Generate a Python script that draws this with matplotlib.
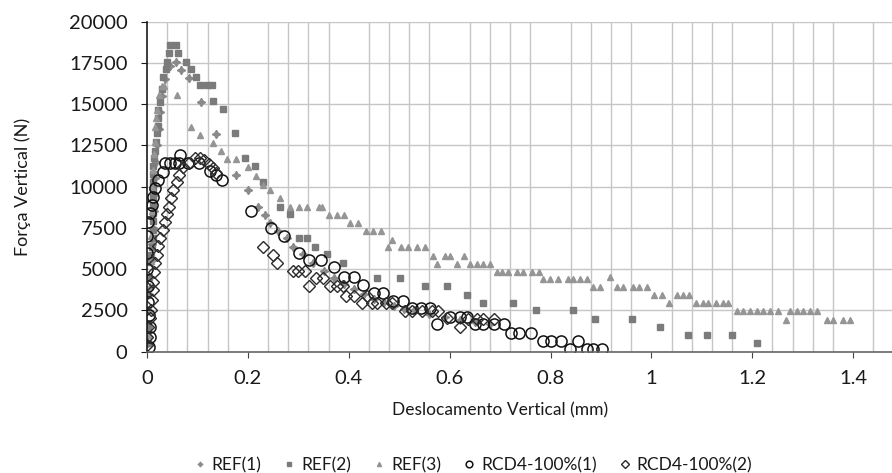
import matplotlib
matplotlib.use("Agg")
import matplotlib.pyplot as plt
from matplotlib.ticker import MultipleLocator

plt.rcParams['font.family'] = ['Lato', 'DejaVu Sans']

# ---------------- data ----------------
ref1_x = [0.001, 0.002, 0.0, 0.004, 0.006, 0.008, 0.010, 0.012, 0.013, 0.014, 0.016, 0.018, 0.020,
          0.023, 0.026, 0.030, 0.036, 0.045, 0.0575, 0.0668, 0.0839, 0.107, 0.1368, 0.176, 0.200,
          0.2206, 0.234, 0.2438, 0.2603, 0.277, 0.290, 0.310, 0.330, 0.350, 0.370, 0.390, 0.410,
          0.430, 0.450, 0.470, 0.490, 0.510, 0.530, 0.560, 0.590, 0.620, 0.650, 0.680]
ref1_y = [500, 1500, 2500, 3500, 4500, 5500, 6500, 7500, 8500, 9500, 10500, 11500, 12500,
          13500, 14500, 15500, 16500, 17300, 17556, 17071, 16568, 15114, 13193, 10708, 9800,
          8787, 8284, 7817, 7333, 6872, 6363, 5900, 5400, 4900, 4450, 4100, 3800,
          3500, 3200, 3000, 2800, 2600, 2500, 2300, 2100, 1950, 1800, 1700]

ref2_x = [0.001, 0.002, 0.0, 0.004, 0.006, 0.0073, 0.0093, 0.0113, 0.0113, 0.0113, 0.0113, 0.0113,
          0.0113, 0.0113, 0.0113, 0.0125, 0.0125, 0.0139, 0.0159, 0.0178, 0.0192, 0.0224, 0.0224,
          0.0224, 0.0258, 0.029, 0.0324, 0.0377, 0.039, 0.044, 0.0456, 0.0575, 0.062, 0.077,
          0.0866, 0.097, 0.106, 0.118, 0.128, 0.131, 0.151, 0.1744, 0.194, 0.214, 0.229, 0.264,
          0.283, 0.302, 0.317, 0.333, 0.356, 0.389, 0.455, 0.5015, 0.551, 0.594, 0.634, 0.6666,
          0.726, 0.771, 0.844, 0.888, 0.961, 1.018, 1.073, 1.111, 1.160, 1.2085]
ref2_y = [500, 1500, 3436, 4500, 5454, 5860, 6363, 6872, 7375, 7900, 8400, 8900,
          9400, 9850, 10302, 10769, 11253, 11720, 12181, 12726, 13235, 13677, 14144,
          14647, 15150, 15900, 16629, 17113, 17574, 18083, 18586, 18586, 18083, 17574,
          17113, 16629, 16162, 16162, 16162, 15193, 14689, 13235, 11740, 11253, 10302, 8787,
          8345, 6872, 6872, 6363, 5902, 5393, 4448, 4448, 3981, 3981, 3436, 2970,
          2970, 2527, 2527, 1963, 1963, 1479, 1012, 1012, 1012, 545]

ref3_x = [0.003, 0.005, 0.006, 0.007, 0.008, 0.009, 0.010, 0.012, 0.013, 0.0159, 0.016, 0.018,
          0.020, 0.0238, 0.029, 0.0337, 0.0589, 0.087, 0.106, 0.131, 0.146, 0.158, 0.176, 0.201,
          0.216, 0.2306, 0.244, 0.264, 0.2834, 0.3005, 0.3165, 0.3415, 0.3463, 0.3613, 0.3759,
          0.3904, 0.4024, 0.4188, 0.4335, 0.4486, 0.4632, 0.4862, 0.4783, 0.5029, 0.518, 0.5346,
          0.551, 0.5663, 0.5907, 0.6006, 0.6283, 0.5754, 0.615, 0.6402, 0.6547, 0.6666, 0.6799,
          0.6932, 0.7031, 0.7162, 0.7328, 0.7459, 0.7625, 0.7776, 0.7855, 0.7988, 0.8153, 0.8351,
          0.845, 0.8583, 0.8716, 0.9177, 0.8834, 0.8979, 0.931, 0.9441, 0.9627, 0.9758, 0.9905,
          1.005, 1.0202, 1.0347, 1.0511, 1.063, 1.0749, 1.0882, 1.1027, 1.1126, 1.1279, 1.1411,
          1.1522, 1.1689, 1.182, 1.1952, 1.2085, 1.2216, 1.2349, 1.2513, 1.2745, 1.2878, 1.3009,
          1.3142, 1.3275, 1.2666, 1.3473, 1.3603, 1.3802, 1.3934]
ref3_y = [1000, 2500, 4000, 5500, 7000, 8500, 10000, 11000, 12000, 12700, 13600, 14147,
          14647, 15556, 16100, 16100, 15556, 13635, 13132, 12665, 12163, 11659, 11659, 11211,
          10666, 10100, 9799, 9296, 8751, 8751, 8751, 8751, 8751, 8284, 8284,
          8284, 7781, 7781, 7333, 7333, 7333, 6769, 6327, 6327, 6327, 6327,
          6327, 5800, 5800, 5800, 5800, 5315, 5315, 5315, 5315, 5315, 5315,
          4848, 4848, 4848, 4848, 4848, 4848, 4848, 4387, 4387, 4387, 4387,
          4387, 4387, 4387, 4500, 3903, 3903, 3903, 3903, 3903, 3903, 3903,
          3418, 3418, 2933, 3418, 3418, 3418, 2933, 2933, 2933, 2933, 2933,
          2933, 2448, 2448, 2448, 2448, 2448, 2448, 2448, 2448, 2448, 2448,
          2448, 2448, 1921, 1921, 1921, 1921, 1921]

rcd1_x = [0.004, 0.006, 0.005, 0.003, 0.002, 0.001, 0.0, 0.0, 0.0, 0.0026, 0.006, 0.0093,
          0.0125, 0.0159, 0.0224, 0.031, 0.0357, 0.0456, 0.0555, 0.064, 0.0654, 0.082, 0.1037,
          0.125, 0.1368, 0.148, 0.2055, 0.245, 0.2716, 0.302, 0.3217, 0.344, 0.3707, 0.3905,
          0.410, 0.4288, 0.450, 0.4684, 0.488, 0.5068, 0.5247, 0.5425, 0.561, 0.5754, 0.6006,
          0.6204, 0.635, 0.650, 0.6666, 0.688, 0.7076, 0.7209, 0.738, 0.7605, 0.7843, 0.800,
          0.820, 0.8385, 0.855, 0.8715, 0.8847, 0.903]
rcd1_y = [300, 900, 1500, 2200, 3000, 4000, 5000, 6000, 7012, 7878, 8387, 8890,
          9393, 9902, 10405, 10908, 11417, 11417, 11417, 11417, 11920, 11417, 11417,
          10969, 10708, 10405, 8527, 7478, 7012, 6000, 5557, 5557, 5115, 4545,
          4545, 4042, 3575, 3575, 3090, 3090, 2630, 2630, 2630, 1679, 2121,
          2121, 2121, 1679, 1679, 1679, 1679, 1115, 1115, 1115, 630, 630,
          630, 145, 630, 145, 145, 145]

rcd2_x = [0.0, 0.0, 0.0026, 0.006, 0.0073, 0.0093, 0.011, 0.0125, 0.0139, 0.0159, 0.019, 0.0224,
          0.026, 0.0323, 0.0357, 0.0402, 0.0442, 0.047, 0.0521, 0.0589, 0.064, 0.072, 0.0839,
          0.0951, 0.105, 0.113, 0.1235, 0.131, 0.1368, 0.229, 0.249, 0.257, 0.289, 0.300, 0.313,
          0.3217, 0.335, 0.349, 0.363, 0.376, 0.389, 0.3945, 0.410, 0.4256, 0.4367, 0.447,
          0.4553, 0.4737, 0.485, 0.5114, 0.5247, 0.5445, 0.5643, 0.5774, 0.594, 0.6204, 0.637,
          0.6535, 0.6666, 0.688]
rcd2_y = [400, 900, 1515, 2024, 2527, 3133, 3739, 4242, 4848, 5357, 5860, 6400,
          6900, 7375, 7878, 8345, 8787, 9296, 9799, 10266, 10708, 11211, 11417,
          11720, 11720, 11617, 11374, 11114, 10811, 6327, 5860, 5357, 4909, 4909, 4909,
          3981, 4448, 4448, 3981, 3981, 3981, 3375, 3375, 2970, 3375, 2970,
          2950, 2933, 2970, 2485, 2485, 2485, 2485, 2485, 2024, 1515, 1963,
          1963, 1963, 1963]

series_labels = ['REF(1)', 'REF(2)', 'REF(3)', 'RCD4-100%(1)', 'RCD4-100%(2)']
x_ticks = [0, 0.2, 0.4, 0.6, 0.8, 1.0, 1.2, 1.4]
x_tick_labels = ['0', '0.2', '0.4', '0.6', '0.8', '1', '1.2', '1.4']
y_ticks = [0, 2500, 5000, 7500, 10000, 12500, 15000, 17500, 20000]

# ---------------- figure ----------------
W, H = 892, 473
fig = plt.figure(figsize=(W / 100, H / 100), dpi=100)
ax = fig.add_axes([147 / W, 1 - 351.7 / H, (W - 147) / W, (351.7 - 21.7) / H])

ax.set_xlim(0, 1.477)
ax.set_ylim(0, 20000)

grid_c = '#c6c6c6'
ax.xaxis.set_minor_locator(MultipleLocator(0.04))
ax.grid(True, which='minor', axis='x', color=grid_c, lw=1.0)
ax.grid(True, which='major', axis='y', color=grid_c, lw=1.0)
ax.set_axisbelow(True)

star4 = (4, 1, 0)
ax.plot(ref1_x, ref1_y, ls='none', marker=star4, ms=6, color='#8a8a8a', mec='#8a8a8a',
        label=series_labels[0])
ax.plot(ref2_x, ref2_y, ls='none', marker='s', ms=4.8, color='#7b7b7b', mec='#7b7b7b',
        label=series_labels[1])
ax.plot(ref3_x, ref3_y, ls='none', marker='^', ms=5, color='#959595', mec='#959595',
        label=series_labels[2])
ax.plot(rcd1_x, rcd1_y, ls='none', marker='o', ms=8, mfc='none', mec='#111111', mew=1.1,
        label=series_labels[3])
ax.plot(rcd2_x, rcd2_y, ls='none', marker='D', ms=6.2, mfc='none', mec='#2a2a2a', mew=1.0,
        label=series_labels[4])

ax.set_xticks(x_ticks)
ax.set_xticklabels(x_tick_labels)
ax.set_yticks(y_ticks)
ax.set_yticklabels([str(v) for v in y_ticks])

for s in ['top', 'right']:
    ax.spines[s].set_visible(False)
ax.spines['left'].set_color('#1a1a1a')
ax.spines['left'].set_linewidth(1.2)
ax.spines['bottom'].set_color('#666666')
ax.spines['bottom'].set_linewidth(1.2)

ax.tick_params(axis='both', which='major', labelsize=14.5, colors='#1a1a1a',
               length=4, direction='out')
ax.tick_params(axis='y', which='major', pad=10)
ax.tick_params(axis='x', which='major', pad=9, colors='#444444', labelcolor='#1a1a1a')
ax.tick_params(axis='x', which='minor', length=0)

ax.set_xlabel('Deslocamento Vertical (mm)', fontsize=12.5, color='#1a1a1a')
ax.set_ylabel('Força Vertical (N)', fontsize=13, color='#1a1a1a')
ax.xaxis.set_label_coords((500 - 147) / (W - 147), -(402 - 351.7) / 330)
ax.yaxis.set_label_coords((31 - 147) / (W - 147), 0.5)

leg = fig.legend(loc='center', bbox_to_anchor=(473 / W, 1 - 465 / H), ncol=5, frameon=False,
                 fontsize=12.5, markerscale=0.6, handlelength=0.7, handletextpad=0.35,
                 columnspacing=1.25, labelcolor='#1a1a1a')

fig.savefig('out.png', dpi=100)
